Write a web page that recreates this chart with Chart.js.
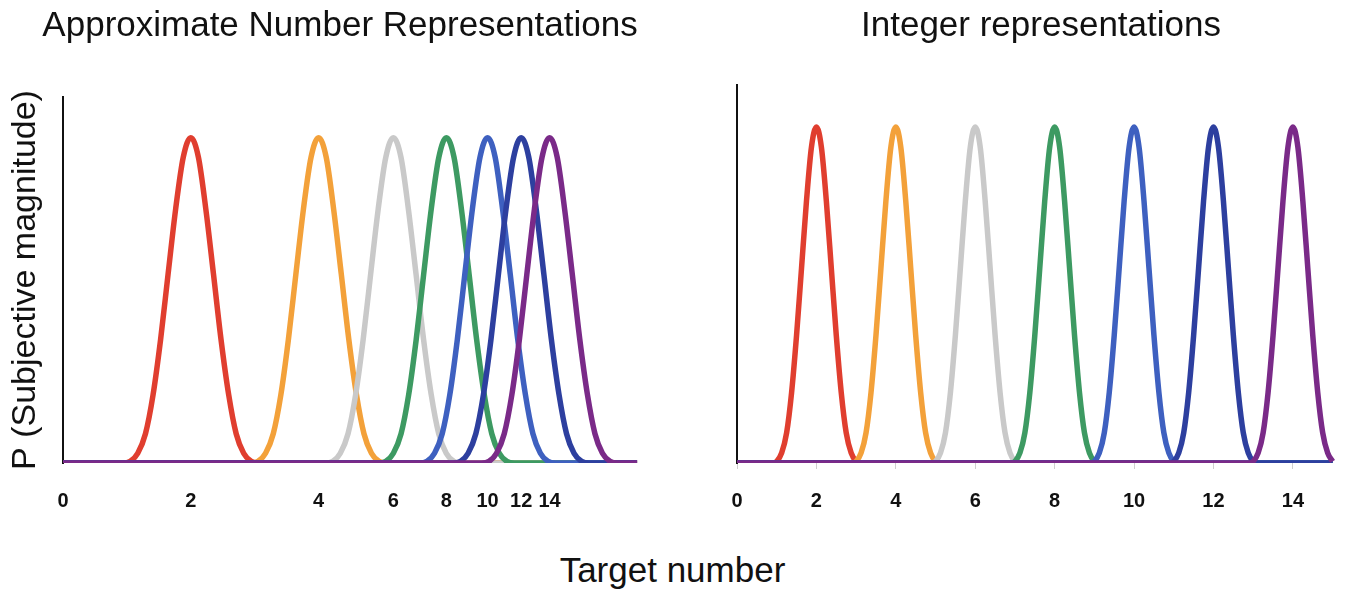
<!DOCTYPE html>
<html>
<head>
<meta charset="utf-8">
<script src="https://cdn.jsdelivr.net/npm/chart.js@4.4.1/dist/chart.umd.min.js"></script>
<style>
  body { margin: 0; background: #fff; width: 1345px; height: 595px; position: relative; overflow: hidden; font-family: "Liberation Sans", Arial, sans-serif; }
  .box { position: absolute; top: 0; height: 520px; }
  #leftBox { left: 0; width: 680px; }
  #rightBox { left: 720px; width: 642px; }
  #xTitle { position: absolute; left: 0; width: 1345px; top: 552px; text-align: center; font-size: 35px; line-height: 35px; color: #111; }
</style>
</head>
<body>
<div class="box" id="leftBox"><canvas id="approxChart"></canvas></div>
<div class="box" id="rightBox"><canvas id="integerChart"></canvas></div>
<div id="xTitle">Target number</div>
<script>
const curveColors = ['#e03e2f', '#f3a13a', '#c9c9c9', '#3d9a62', '#3e60c0', '#2d3f9f', '#7a2a88'];

const approxTargets = [2, 4, 6, 8, 10, 12, 14];
const integerTargets = [2, 4, 6, 8, 10, 12, 14];

// heights across one peak, foot to foot (peak = 1)
const peakHeights = [0, 0, 0.005, 0.03, 0.09, 0.21, 0.38, 0.58, 0.78, 0.94, 1,
                     0.94, 0.78, 0.58, 0.38, 0.21, 0.09, 0.03, 0.005, 0, 0];
// where those heights sit: left panel as ratio of the target, right as distance from it
const approxRatios = [0.664, 0.691, 0.720, 0.750, 0.782, 0.815, 0.849, 0.884, 0.921, 0.960, 1,
                      1.042, 1.085, 1.131, 1.178, 1.228, 1.279, 1.332, 1.388, 1.446, 1.507];
const integerOffsets = [-1.25, -1.125, -1, -0.875, -0.75, -0.625, -0.5, -0.375, -0.25, -0.125, 0,
                        0.125, 0.25, 0.375, 0.5, 0.625, 0.75, 0.875, 1, 1.125, 1.25];

const approxTicks = [1, 2, 4, 6, 8, 10, 12, 14];
const approxTickLabels = ['0', '2', '4', '6', '8', '10', '12', '14'];
const integerTicks = [0, 2, 4, 6, 8, 10, 12, 14];

// where each panel's curves start and stop along x
const approxRange = [1, 22.5];
const integerRange = [0, 15];

Chart.defaults.font.family = '"Liberation Sans", Arial, sans-serif';
Chart.defaults.color = '#111';

function makeCurves(targets, place, range) {
    return targets.map((t, i) => {
        const pts = peakHeights.map((h, j) => ({ x: place(t, j), y: h }))
            .filter(p => p.x >= range[0] && p.x <= range[1]);
        if (pts[0].x > range[0]) pts.unshift({ x: range[0], y: 0 });
        if (pts[pts.length - 1].x < range[1]) pts.push({ x: range[1], y: 0 });
        return {
            data: pts,
            borderColor: curveColors[i],
            borderWidth: 5.5,
            pointRadius: 0,
            cubicInterpolationMode: 'monotone',
            order: targets.length - i   // later curves on top
        };
    });
}

const tickFont = { size: 20, weight: 'bold' };
const commonPlugins = { legend: { display: false }, tooltip: { enabled: false } };
const fitX = s => { s.height = 57; s.paddingLeft = 0; s.paddingRight = 0; };

new Chart(document.getElementById('approxChart'), {
    type: 'line',
    data: { datasets: makeCurves(approxTargets, (t, j) => t * approxRatios[j], approxRange) },
    options: {
        responsive: true,
        maintainAspectRatio: false,
        animation: false,
        plugins: {
            ...commonPlugins,
            title: {
                display: true,
                text: 'Approximate Number Representations',
                font: { size: 35, weight: 'normal' },
                padding: { top: 5, bottom: 50 }
            }
        },
        scales: {
            x: {
                type: 'logarithmic',
                min: 1,
                max: 28.4,
                afterBuildTicks: s => { s.ticks = approxTicks.map(v => ({ value: v })); },
                afterFit: fitX,
                grid: { display: false, drawTicks: false },
                border: { display: false },
                ticks: { callback: (v, i) => approxTickLabels[i], font: tickFont, padding: 26, maxRotation: 0, autoSkip: false }
            },
            y: {
                min: 0,
                max: 1.125,
                afterFit: s => { s.width = 63; },
                ticks: { display: false },
                grid: { display: false },
                border: { display: true, color: '#111', width: 2 },
                title: { display: true, text: 'P (Subjective magnitude)', font: { size: 34 }, padding: { top: 5 } }
            }
        }
    }
});

new Chart(document.getElementById('integerChart'), {
    type: 'line',
    data: { datasets: makeCurves(integerTargets, (t, j) => t + integerOffsets[j], integerRange) },
    options: {
        responsive: true,
        maintainAspectRatio: false,
        animation: false,
        plugins: {
            ...commonPlugins,
            title: {
                display: true,
                text: 'Integer representations',
                font: { size: 35, weight: 'normal' },
                padding: { top: 5, bottom: 38 }
            }
        },
        scales: {
            x: {
                type: 'linear',
                min: 0,
                max: 15.74,
                afterBuildTicks: s => { s.ticks = integerTicks.map(v => ({ value: v })); },
                afterFit: fitX,
                grid: { display: true, drawOnChartArea: false, drawTicks: true, tickLength: 6, color: '#cfcfcf' },
                border: { display: false },
                ticks: { font: tickFont, padding: 20, maxRotation: 0, autoSkip: false }
            },
            y: {
                min: 0,
                max: 1.125,
                afterFit: s => { s.width = 17; },
                ticks: { display: false },
                grid: { display: false },
                border: { display: true, color: '#111', width: 2 }
            }
        }
    }
});
</script>
</body>
</html>
